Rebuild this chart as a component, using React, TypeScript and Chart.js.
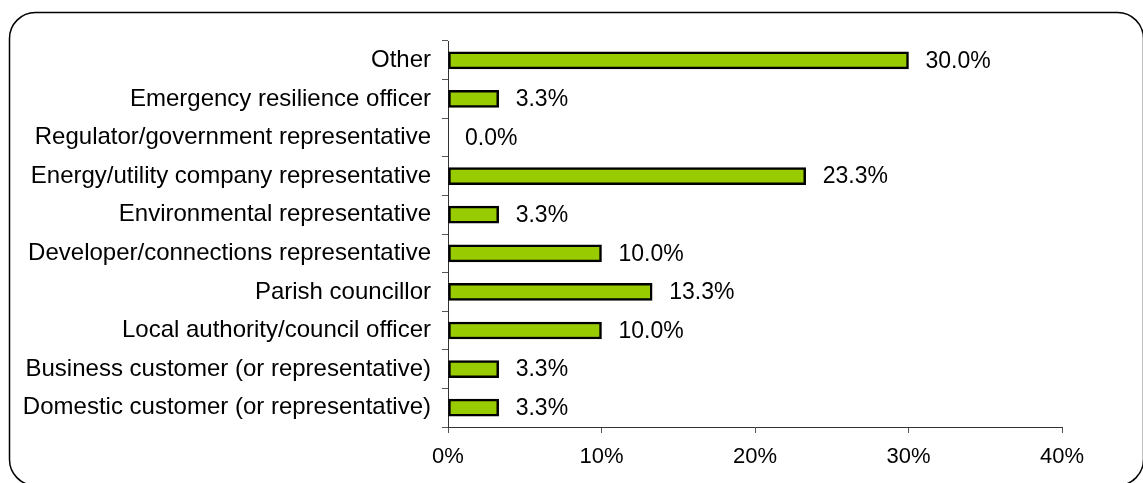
import React, { useEffect, useRef } from "react";
import { Chart, registerables } from "chart.js";

Chart.register(...registerables);

const categories = [
  "Other",
  "Emergency resilience officer",
  "Regulator/government representative",
  "Energy/utility company representative",
  "Environmental representative",
  "Developer/connections representative",
  "Parish councillor",
  "Local authority/council officer",
  "Business customer (or representative)",
  "Domestic customer (or representative)",
];
const values = [30.0, 3.3, 0.0, 23.3, 3.3, 10.0, 13.3, 10.0, 3.3, 3.3];
const xTicks = [0, 10, 20, 30, 40];

const FONT = "'Liberation Sans', Arial, sans-serif";

const framePlugin = {
  id: "frame",
  beforeDraw(chart: any) {
    const ctx = chart.ctx;
    ctx.save();
    ctx.fillStyle = "#ffffff";
    ctx.fillRect(0, 0, chart.width, chart.height);
    const x = 9.5, y = 12.5, w = 1134, h = 473, r = 26;
    ctx.beginPath();
    ctx.moveTo(x + r, y);
    ctx.lineTo(x + w - r, y);
    ctx.arcTo(x + w, y, x + w, y + r, r);
    ctx.lineTo(x + w, y + h - r);
    ctx.arcTo(x + w, y + h, x + w - r, y + h, r);
    ctx.lineTo(x + r, y + h);
    ctx.arcTo(x, y + h, x, y + h - r, r);
    ctx.lineTo(x, y + r);
    ctx.arcTo(x, y, x + r, y, r);
    ctx.closePath();
    ctx.strokeStyle = "#000";
    ctx.lineWidth = 1.5;
    ctx.stroke();
    ctx.restore();
  },
};

const labelPlugin = {
  id: "barLabels",
  afterDatasetsDraw(chart: any) {
    const ctx = chart.ctx;
    const meta = chart.getDatasetMeta(0);
    ctx.save();
    ctx.font = `23px ${FONT}`;
    ctx.fillStyle = "#000";
    ctx.textBaseline = "middle";
    ctx.textAlign = "left";
    meta.data.forEach((el: any, i: number) => {
      ctx.fillText(values[i].toFixed(1) + "%", el.x + 17, el.y + 1);
    });
    ctx.restore();
  },
};

export default function App() {
  const ref = useRef<HTMLCanvasElement>(null);
  useEffect(() => {
    const chart = new Chart(ref.current!, {
      type: "bar",
      data: {
        labels: categories,
        datasets: [
          {
            data: values,
            backgroundColor: "#99CC00",
            borderColor: "#000000",
            borderWidth: 2.5,
            borderSkipped: false,
            barThickness: 17,
          },
        ],
      },
      options: {
        indexAxis: "y",
        animation: false,
        responsive: false,
        layout: { padding: { left: 0, top: 41, right: 81, bottom: 0 } },
        plugins: { legend: { display: false }, tooltip: { enabled: false } },
        scales: {
          x: {
            min: 0,
            max: 40,
            afterBuildTicks: (s: any) => {
              s.ticks = xTicks.map((v) => ({ value: v }));
            },
            afterFit: (s: any) => {
              s.height = 56;
            },
            ticks: {
              callback: (v: any) => v + "%",
              color: "#000",
              font: { family: FONT, size: 22 },
              padding: 11,
              maxRotation: 0,
            },
            grid: {
              drawOnChartArea: false,
              drawTicks: true,
              tickLength: 6,
              color: "#555",
            },
            border: { color: "#333", width: 1 },
          },
          y: {
            offset: true,
            afterFit: (s: any) => {
              s.width = 448;
            },
            ticks: {
              color: "#000",
              font: { family: FONT, size: 24 },
              padding: 11,
              autoSkip: false,
            },
            grid: {
              offset: true,
              drawOnChartArea: false,
              drawTicks: true,
              tickLength: 6,
              color: "#555",
            },
            border: { color: "#333", width: 1 },
          },
        },
      },
      plugins: [framePlugin, labelPlugin],
    });
    return () => chart.destroy();
  }, []);
  return (
    <div style={{ position: "fixed", left: 0, top: 0, width: 1143, height: 483 }}>
      <canvas ref={ref} width={1143} height={483} style={{ width: 1143, height: 483 }} />
    </div>
  );
}
